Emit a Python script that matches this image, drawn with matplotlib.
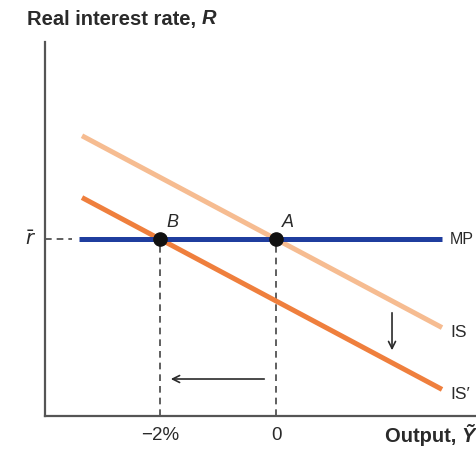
import matplotlib.pyplot as plt

# Data (output gap in %, real interest rate in arbitrary units)
r_bar = 3.05
is_slope = -0.533
curve_x = [-3.345, 2.862]
mp_x = [-3.397, 2.862]
is_shift = [0, -2]          # IS passes through A at 0, IS' through B at -2%
points_x = [-2, 0]
point_names = ["B", "A"]
tick_pos = [-2, 0]
tick_labels = ["\u22122%", "0"]

font = "Liberation Sans"
grey = "#555555"
txt = "#2a2a2a"

fig = plt.figure(figsize=(4.76, 4.5), dpi=100)
ax = fig.add_axes([45 / 476, 34 / 450, 431 / 476, 374 / 450])
ax.set_xlim(-3.983, 3.448)
ax.set_ylim(0, 6.45)

for s in ["top", "right"]:
    ax.spines[s].set_visible(False)
for s in ["left", "bottom"]:
    ax.spines[s].set_color(grey)
    ax.spines[s].set_linewidth(1.6)
ax.set_yticks([])
ax.set_xticks(tick_pos)
ax.set_xticklabels(tick_labels, fontsize=13.5, color=txt, family=font)
ax.tick_params(axis="x", length=0, pad=8)

# IS curves
ys = [r_bar + is_slope * (x - is_shift[0]) for x in curve_x]
ax.plot(curve_x, ys, color="#f6bc91", lw=3.6, solid_capstyle="butt", zorder=2)
ys2 = [r_bar + is_slope * (x - is_shift[1]) for x in curve_x]
ax.plot(curve_x, ys2, color="#ef7f3d", lw=3.6, solid_capstyle="butt", zorder=2)

# MP line
ax.plot(mp_x, [r_bar, r_bar], color="#1f3d9e", lw=3.6,
        solid_capstyle="butt", zorder=3)
ax.plot([-3.983, -3.517], [r_bar, r_bar], color="#444444", lw=1.2,
        ls=(0, (4, 3)), clip_on=False)

# vertical dashed lines and points
for x, name in zip(points_x, point_names):
    ax.plot([x, x], [0, r_bar], color="#444444", lw=1.2, ls=(0, (4, 3)), zorder=1)
    ax.plot(x, r_bar, "o", color="#111111", ms=9.5, zorder=4)
    ax.text(x + 0.21, r_bar + 0.14, name, fontsize=13, style="italic",
            family=font, color=txt, ha="center", va="bottom")

# arrows
ax.annotate("", xy=(-1.862, 0.638), xytext=(-0.155, 0.638),
            arrowprops=dict(arrowstyle="->,head_length=0.5,head_width=0.25",
                            color=txt, lw=1.2))
ax.annotate("", xy=(2.0, 1.086), xytext=(2.0, 1.828),
            arrowprops=dict(arrowstyle="->,head_length=0.5,head_width=0.25",
                            color=txt, lw=1.2))

# curve labels
ax.text(2.99, r_bar, "MP", fontsize=11.5, family=font, color=txt,
        va="center", clip_on=False)
ax.text(3.01, 1.448, "IS", fontsize=12.5, family=font, color=txt,
        va="center", clip_on=False)
ax.text(3.01, 0.379, "IS\u2032", fontsize=12.5, family=font,
        color=txt, va="center", clip_on=False)
ax.text(-4.14, r_bar, r"$\bar{r}$", fontsize=14, color=txt,
        ha="right", va="center")

# axis titles
fig.canvas.draw()
rend = fig.canvas.get_renderer()
t1 = fig.text(27 / 476, 1 - 19 / 450, "Real interest rate, ", fontsize=14.5,
              weight="bold", family=font, color=txt, va="center")
bb = t1.get_window_extent(rend)
fig.text(bb.x1 / 476, 1 - 19 / 450, "R", fontsize=14.5, weight="bold",
         style="italic", family=font, color=txt, va="center")
t3 = fig.text(475 / 476, 1 - 437 / 450, "\u1ef8", fontsize=14.5, weight="bold",
              style="italic", family=font, color=txt, va="center", ha="right")
bb = t3.get_window_extent(rend)
fig.text(bb.x0 / 476, 1 - 437 / 450, "Output, ", fontsize=14.5,
         weight="bold", family=font, color=txt, va="center", ha="right")

fig.savefig("out.png", dpi=100)
